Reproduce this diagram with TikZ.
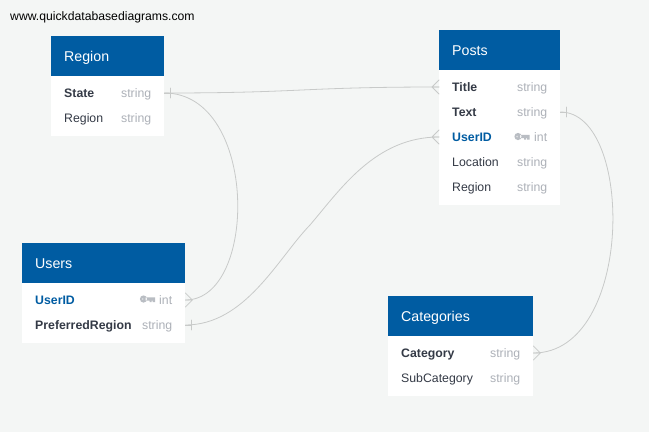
\documentclass[tikz,border=0pt]{standalone}
\usepackage{fontspec}
\setmainfont{Liberation Sans}
\definecolor{pagebg}{HTML}{F4F6F5}
\definecolor{headblue}{HTML}{005CA2}
\definecolor{rowdark}{HTML}{343A46}
\definecolor{typegrey}{HTML}{ADB1B8}
\definecolor{linegrey}{HTML}{C8CAC9}
\newcommand{\typetxt}[1]{\textcolor{typegrey}{#1}}
\newcommand{\rowsize}{\fontsize{12.3}{14}\selectfont}
\tikzset{
	headbox/.style={fill=headblue, text=white, anchor=north west, minimum height=40, inner xsep=13, inner ysep=0, text height=11, text depth=1, align=left, font=\fontsize{14.2}{16}\selectfont},
	bodybox/.style={fill=white, anchor=north west, inner sep=0},
	rowbox/.style={anchor=west, minimum height=25, inner xsep=13, inner ysep=0, text height=10.5, text depth=1.5, text=rowdark, font=\rowsize},
	link/.style={draw=linegrey, line width=.8pt},
	crowl/.pic={\draw[link] (-7,0)--(0,7) (-7,0)--(0,-7) (-7,0)--(0,0);},
	crowr/.pic={\draw[link] (7,0)--(0,7) (7,0)--(0,-7) (7,0)--(0,0);},
	onebar/.pic={\draw[link] (6,-5)--(6,5) (0,0)--(6,0);},
	keyicon/.pic={\fill[typegrey!85] (-4,0) circle(3.6) (-2,-1.6) rectangle (7.5,1.6) (2.2,0) rectangle (4.2,3.2) (5,0) rectangle (7.5,3.2);\fill[typegrey!45] (-4.8,0) circle(1);}
}
\begin{document}
\begin{tikzpicture}[x=1pt, y=-1pt, line join=round, line cap=round]
	\useasboundingbox[fill=pagebg] (0,0) rectangle (649,432);
	\node[anchor=west, inner sep=0, text height=10, text depth=2, font=\fontsize{12.2}{14}\selectfont] (site) at (10,16) {www.quickdatabasediagrams.com};
	% Region
	\node[bodybox, minimum width=113, minimum height=60] (regionBody) at (51,76) {};
	\node[headbox, text width=87] (regionHead) at (51,36) {Region};
	\node[rowbox, text width=87] (regionState) at (51,93) {\textbf{State}\hfill\typetxt{string}};
	\node[rowbox, text width=87] (regionRegion) at (51,118) {Region\hfill\typetxt{string}};
	% Posts
	\node[bodybox, minimum width=121, minimum height=135] (postsBody) at (439,70) {};
	\node[headbox, text width=95] (postsHead) at (439,30) {Posts};
	\node[rowbox, text width=95] (postsTitle) at (439,87) {\textbf{Title}\hfill\typetxt{string}};
	\node[rowbox, text width=95] (postsText) at (439,112) {\textbf{Text}\hfill\typetxt{string}};
	\node[rowbox, text width=95] (postsUser) at (439,137) {\textbf{\textcolor{headblue}{UserID}}\hfill\typetxt{int}};
	\node[rowbox, text width=95] (postsLoc) at (439,162) {Location\hfill\typetxt{string}};
	\node[rowbox, text width=95] (postsRegion) at (439,187) {Region\hfill\typetxt{string}};
	\pic at (522,136.5) {keyicon};
	% Users
	\node[bodybox, minimum width=163, minimum height=60] (usersBody) at (22,283) {};
	\node[headbox, text width=137] (usersHead) at (22,243) {Users};
	\node[rowbox, text width=137] (usersID) at (22,300) {\textbf{\textcolor{headblue}{UserID}}\hfill\typetxt{int}};
	\node[rowbox, text width=137] (usersPref) at (22,325) {\textbf{PreferredRegion}\hfill\typetxt{string}};
	\pic at (147.5,299) {keyicon};
	% Categories
	\node[bodybox, minimum width=145, minimum height=60] (catBody) at (388,336) {};
	\node[headbox, text width=119] (catHead) at (388,296) {Categories};
	\node[rowbox, text width=119] (catCategory) at (388,353) {\textbf{Category}\hfill\typetxt{string}};
	\node[rowbox, text width=119] (catSub) at (388,378) {SubCategory\hfill\typetxt{string}};
	% links
	\draw[link] (regionState.east) .. controls +(138,0) and +(-138,0) .. (postsTitle.west);
	\draw[link] (regionState.east) .. controls +(94,0) and +(73,0) .. (usersID.east);
	\draw[link] (usersPref.east) .. controls +(60,0) and (278,258) .. (310,225) .. controls (340,190) and +(-64,0) .. (postsUser.west);
	\draw[link] (postsText.east) .. controls +(74,0) and +(101,0) .. (catCategory.east);
	\pic at (regionState.east) {onebar};
	\pic at (usersPref.east) {onebar};
	\pic at (postsText.east) {onebar};
	\pic at (postsTitle.west) {crowl};
	\pic at (postsUser.west) {crowl};
	\pic at (usersID.east) {crowr};
	\pic at (catCategory.east) {crowr};
\end{tikzpicture}
\end{document}
